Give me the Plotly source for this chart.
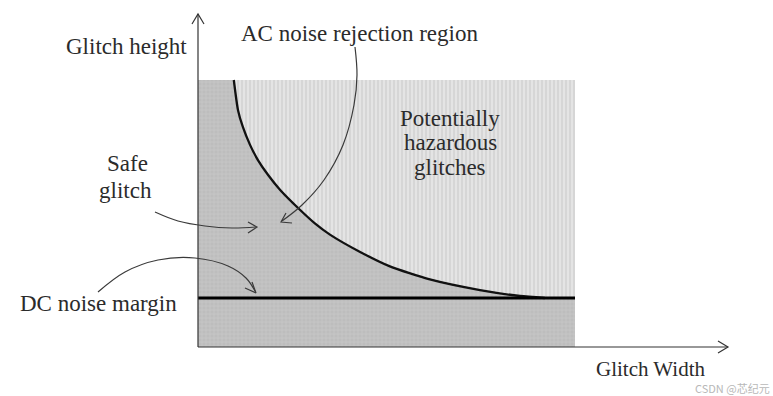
import plotly.graph_objects as go

# ---- data (normalized units: glitch width 0..1, glitch height 0..1) ----
curve_width = [0.095, 0.106, 0.119, 0.138, 0.159, 0.186, 0.218, 0.271, 0.310, 0.350, 0.430,
               0.509, 0.615, 0.748, 0.854, 0.920]
curve_height = [1.000, 0.888, 0.824, 0.757, 0.700, 0.644, 0.588, 0.513, 0.463, 0.421, 0.356,
                0.302, 0.253, 0.213, 0.191, 0.1835]
dc_margin = 0.1835
region_width = 1.0
region_height = 1.0

# ---- pixel -> data mapping for decorations ----
X0, XS = 198.0, 377.0
Y0, YS = 347.0, 267.0
def px(x): return (x - X0) / XS
def py(y): return (Y0 - y) / YS

W, H = 773, 396
FONT = "Liberation Serif"
TXT = "#2b2b2b"

fig = go.Figure()

# light region (potentially hazardous)
fig.add_trace(go.Scatter(
    x=[0, region_width, region_width, 0, 0], y=[0, 0, region_height, region_height, 0],
    mode="lines", fill="toself", line=dict(width=0),
    fillcolor="#dcdcdc",
    fillpattern=dict(shape="|", bgcolor="#e4e4e4", fgcolor="#c6c6c6", size=4, solidity=0.45),
    hoverinfo="skip", showlegend=False))

# dark region (safe)
dx = [0, 0] + curve_width + [region_width, region_width, 0]
dy = [0, region_height] + curve_height + [dc_margin, 0, 0]
fig.add_trace(go.Scatter(
    x=dx, y=dy, mode="lines", fill="toself", line=dict(width=0),
    fillcolor="#bdbdbd",
    fillpattern=dict(shape="+", bgcolor="#bdbdbd", fgcolor="#d6d6d6", size=4, solidity=0.3),
    hoverinfo="skip", showlegend=False))

# AC noise rejection curve
fig.add_trace(go.Scatter(x=curve_width, y=curve_height, mode="lines",
                         line=dict(color="#111111", width=2.3, shape="spline", smoothing=0.6),
                         hoverinfo="skip", showlegend=False))
# DC noise margin line
fig.add_trace(go.Scatter(x=[0, region_width], y=[dc_margin, dc_margin], mode="lines",
                         line=dict(color="#000000", width=3.2),
                         hoverinfo="skip", showlegend=False))

# axes
fig.add_trace(go.Scatter(x=[px(198), px(198)], y=[py(347), py(14)], mode="lines",
                         line=dict(color="#333333", width=1.2), hoverinfo="skip", showlegend=False))
fig.add_trace(go.Scatter(x=[px(198), px(728)], y=[py(347), py(347)], mode="lines",
                         line=dict(color="#333333", width=1.2), hoverinfo="skip", showlegend=False))

def chevron(tip, w1, w2, width=1.2, color="#333333"):
    fig.add_trace(go.Scatter(x=[px(w1[0]), px(tip[0]), px(w2[0])],
                             y=[py(w1[1]), py(tip[1]), py(w2[1])], mode="lines",
                             line=dict(color=color, width=width), hoverinfo="skip", showlegend=False))

chevron((198, 14), (192, 24), (204, 24))
chevron((728, 347), (718, 341), (718, 353))

# curved pointer arrows
def curve(pts, color="#3a3a3a", width=1.2):
    fig.add_trace(go.Scatter(x=[px(a) for a, b in pts], y=[py(b) for a, b in pts], mode="lines",
                             line=dict(color=color, width=width, shape="spline", smoothing=1.0),
                             hoverinfo="skip", showlegend=False))

curve([(355, 47), (357, 75), (354, 105), (343, 145), (324, 180), (302, 205), (282, 221)])
chevron((281, 222), (292, 223), (286, 213), color="#3a3a3a")
curve([(155, 212), (178, 221), (205, 226), (232, 228), (256, 227)])
chevron((257, 227), (248, 222), (248, 233), color="#3a3a3a")
curve([(98, 292), (125, 272), (158, 260), (195, 258), (228, 266), (246, 278), (255, 291)])
chevron((256, 293), (252, 282), (245, 288), color="#3a3a3a")

def label(text, x, y, size=23, color=TXT, family=FONT):
    fig.add_annotation(x=px(x), y=py(y), text=text, showarrow=False,
                       font=dict(family=family, size=size, color=color),
                       xanchor="center", yanchor="middle")

label("Glitch height", 126, 46)
label("AC noise rejection region", 359, 33)
label("Potentially", 450, 118)
label("hazardous", 450, 142)
label("glitches", 450, 167)
label("Safe", 127, 163)
label("glitch", 125, 190)
label("DC noise margin", 98, 303)
label("Glitch Width", 651, 369, size=21)
label("CSDN @芯纪元", 732, 388, size=11, color="#b8b8b8", family="Noto Sans CJK SC")

fig.update_layout(
    width=W, height=H, margin=dict(l=0, r=0, t=0, b=0),
    paper_bgcolor="white", plot_bgcolor="white",
    font=dict(family=FONT),
    xaxis=dict(range=[px(0), px(W)], visible=False, fixedrange=True),
    yaxis=dict(range=[py(H), py(0)], visible=False, fixedrange=True),
    showlegend=False,
)

fig.write_html("out.html", config={"displayModeBar": False, "staticPlot": True},
               post_script="document.body.style.margin='0';document.body.style.padding='0';")
